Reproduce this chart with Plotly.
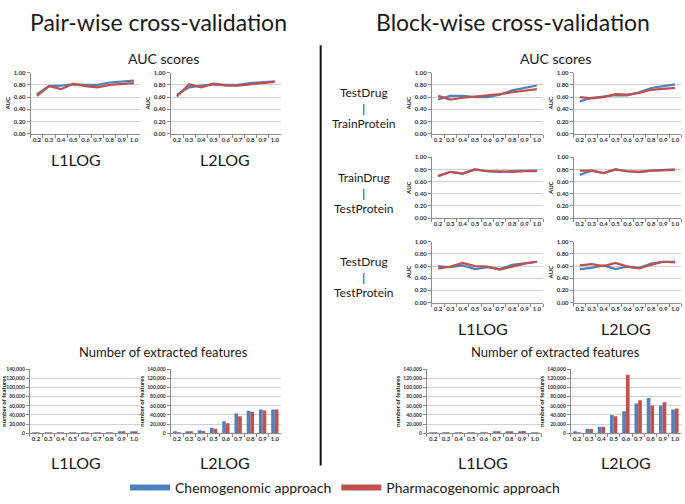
import plotly.graph_objects as go

W, H = 685, 504
categories = ["0.2", "0.3", "0.4", "0.5", "0.6", "0.7", "0.8", "0.9", "1.0"]

# ---- AUC scores: pair-wise ----
pair_l1_auc_chemo = [0.65, 0.78, 0.79, 0.81, 0.80, 0.80, 0.84, 0.86, 0.87]
pair_l1_auc_pharma = [0.62, 0.78, 0.73, 0.82, 0.78, 0.76, 0.80, 0.81, 0.83]
pair_l2_auc_chemo = [0.64, 0.76, 0.79, 0.81, 0.80, 0.80, 0.83, 0.85, 0.86]
pair_l2_auc_pharma = [0.61, 0.81, 0.76, 0.82, 0.79, 0.79, 0.81, 0.83, 0.85]

# ---- AUC scores: block-wise ----
tdtr_l1_chemo = [0.56, 0.62, 0.62, 0.60, 0.60, 0.64, 0.71, 0.75, 0.79]
tdtr_l1_pharma = [0.62, 0.56, 0.59, 0.61, 0.62, 0.65, 0.68, 0.70, 0.73]
tdtr_l2_chemo = [0.53, 0.59, 0.61, 0.63, 0.63, 0.68, 0.75, 0.78, 0.81]
tdtr_l2_pharma = [0.60, 0.58, 0.60, 0.65, 0.64, 0.67, 0.72, 0.73, 0.75]

trte_l1_chemo = [0.69, 0.76, 0.73, 0.80, 0.77, 0.76, 0.77, 0.78, 0.78]
trte_l1_pharma = [0.69, 0.76, 0.73, 0.80, 0.77, 0.76, 0.76, 0.77, 0.77]
trte_l2_chemo = [0.71, 0.78, 0.74, 0.80, 0.77, 0.76, 0.78, 0.79, 0.80]
trte_l2_pharma = [0.78, 0.78, 0.74, 0.80, 0.77, 0.76, 0.78, 0.79, 0.79]

tdte_l1_chemo = [0.60, 0.58, 0.61, 0.55, 0.58, 0.55, 0.62, 0.64, 0.67]
tdte_l1_pharma = [0.56, 0.59, 0.65, 0.60, 0.59, 0.54, 0.59, 0.64, 0.67]
tdte_l2_chemo = [0.55, 0.57, 0.61, 0.55, 0.59, 0.57, 0.64, 0.67, 0.67]
tdte_l2_pharma = [0.61, 0.63, 0.60, 0.65, 0.59, 0.56, 0.62, 0.67, 0.66]

# ---- Number of extracted features ----
pair_l1_feat_chemo = [60, 90, 130, 220, 400, 1100, 1600, 2300, 2400]
pair_l1_feat_pharma = [50, 80, 110, 190, 350, 900, 1400, 2100, 2200]
pair_l2_feat_chemo = [2800, 3500, 6400, 12000, 26000, 43000, 49000, 52000, 52000]
pair_l2_feat_pharma = [1400, 2800, 5000, 9900, 22000, 37000, 47000, 50000, 52000]
block_l1_feat_chemo = [200, 300, 400, 700, 1500, 3000, 3200, 4000, 1500]
block_l1_feat_pharma = [150, 250, 350, 600, 1600, 3300, 2600, 4600, 1200]
block_l2_feat_chemo = [3500, 9900, 14000, 40000, 48000, 65000, 77000, 61000, 52000]
block_l2_feat_pharma = [1400, 9200, 14000, 37000, 128000, 72000, 61000, 68000, 54000]

auc_ticks = [0.0, 0.2, 0.4, 0.6, 0.8, 1.0]
auc_ticklabels = ["0.00", "0.20", "0.40", "0.60", "0.80", "1.00"]
feat_ticks = [0, 20000, 40000, 60000, 80000, 100000, 120000, 140000]
feat_ticklabels = ["0", "20,000", "40,000", "60,000", "80,000", "100,000", "120,000", "140,000"]

BLUE = "#4F81BD"
RED = "#C0504D"
FONT = "Lato"


def px_x(px):
    return px / W


def px_y(py):
    return 1 - py / H


panels = [
    # kind, x-range px, y-range px (top, bottom), chemo, pharma
    ("auc", (26, 136), (70, 132), pair_l1_auc_chemo, pair_l1_auc_pharma),
    ("auc", (167, 278), (70, 132), pair_l2_auc_chemo, pair_l2_auc_pharma),
    ("auc", (430, 542), (70, 132), tdtr_l1_chemo, tdtr_l1_pharma),
    ("auc", (573, 681), (70, 132), tdtr_l2_chemo, tdtr_l2_pharma),
    ("auc", (430, 542), (156, 218), trte_l1_chemo, trte_l1_pharma),
    ("auc", (573, 681), (156, 218), trte_l2_chemo, trte_l2_pharma),
    ("auc", (430, 542), (242, 304), tdte_l1_chemo, tdte_l1_pharma),
    ("auc", (573, 681), (242, 304), tdte_l2_chemo, tdte_l2_pharma),
    ("feat", (25, 136), (372, 437), pair_l1_feat_chemo, pair_l1_feat_pharma),
    ("feat", (167, 278), (372, 437), pair_l2_feat_chemo, pair_l2_feat_pharma),
    ("feat", (425, 540), (372, 437), block_l1_feat_chemo, block_l1_feat_pharma),
    ("feat", (570, 681), (372, 437), block_l2_feat_chemo, block_l2_feat_pharma),
]

fig = go.Figure()
layout_axes = {}
tickfont = dict(family=FONT, size=6, color="#333333", weight="bold")

for i, (kind, (x0, x1), (y0, y1), chemo, pharma) in enumerate(panels, start=1):
    xa = "x" if i == 1 else f"x{i}"
    ya = "y" if i == 1 else f"y{i}"
    xkey = "xaxis" if i == 1 else f"xaxis{i}"
    ykey = "yaxis" if i == 1 else f"yaxis{i}"
    if kind == "auc":
        fig.add_trace(go.Scatter(x=categories, y=chemo, mode="lines",
                                 line=dict(color=BLUE, width=2.2),
                                 xaxis=xa, yaxis=ya, showlegend=False,
                                 name="Chemogenomic approach"))
        fig.add_trace(go.Scatter(x=categories, y=pharma, mode="lines",
                                 line=dict(color=RED, width=2.2),
                                 xaxis=xa, yaxis=ya, showlegend=False,
                                 name="Pharmacogenomic approach"))
        yr = [0, 1]
        tv, tt = auc_ticks, auc_ticklabels
        ytitle = "AUC"
        ytf = tickfont
    else:
        fig.add_trace(go.Bar(x=categories, y=chemo, marker=dict(color=BLUE, line=dict(width=0)),
                             xaxis=xa, yaxis=ya, showlegend=False,
                             name="Chemogenomic approach", offsetgroup="a"))
        fig.add_trace(go.Bar(x=categories, y=pharma, marker=dict(color=RED, line=dict(width=0)),
                             xaxis=xa, yaxis=ya, showlegend=False,
                             name="Pharmacogenomic approach", offsetgroup="b"))
        yr = [0, 140000]
        tv, tt = feat_ticks, feat_ticklabels
        ytitle = "number of features"
        ytf = dict(family=FONT, size=5, color="#333333", weight="bold")
    layout_axes[xkey] = dict(
        domain=[px_x(x0), px_x(x1)], anchor=ya, type="category",
        categoryorder="array", categoryarray=categories,
        range=[-0.5, 8.5], showgrid=False, zeroline=False,
        showline=True, linecolor="#8C8C8C", linewidth=1,
        ticks="outside", ticklen=3, tickcolor="#8C8C8C", tickson="boundaries",
        tickangle=0, tickfont=tickfont, fixedrange=True,
    )
    layout_axes[ykey] = dict(
        domain=[px_y(y1), px_y(y0)], anchor=xa, range=yr,
        tickvals=tv, ticktext=tt, showgrid=True, gridcolor="#D0D0D0", gridwidth=1,
        zeroline=False, showline=True, linecolor="#8C8C8C", linewidth=1,
        ticks="outside", ticklen=3, tickcolor="#8C8C8C", tickfont=ytf,
        title=dict(text=ytitle, font=dict(family=FONT, size=6, color="#202020", weight="bold"), standoff=2),
        fixedrange=True,
    )

# legend entries (legend-only samples)
fig.add_trace(go.Scatter(x=[None], y=[None], mode="lines", line=dict(color=BLUE, width=6),
                         name="Chemogenomic approach", showlegend=True))
fig.add_trace(go.Scatter(x=[None], y=[None], mode="lines", line=dict(color=RED, width=6),
                         name="Pharmacogenomic approach", showlegend=True))

annotations = []


def txt(text, x, y, size, **kw):
    annotations.append(dict(text=text, x=px_x(x), y=px_y(y), xref="paper", yref="paper",
                            showarrow=False, xanchor="center", yanchor="middle",
                            font=dict(family=FONT, size=size, color="#1a1a1a"), **kw))


txt("Pair-wise cross-validation", 155, 18, 23)
txt("Block-wise cross-validation", 512, 18, 23)
txt("AUC scores", 160, 55, 14)
txt("AUC scores", 555, 55, 14)
txt("Number of extracted features", 160, 354, 13)
txt("Number of extracted features", 555, 354, 13)
txt("L1LOG", 72, 158, 16)
txt("L2LOG", 222, 158, 16)
txt("L1LOG", 482, 330, 16)
txt("L2LOG", 626, 330, 16)
txt("L1LOG", 72, 467, 16)
txt("L2LOG", 222, 467, 16)
txt("L1LOG", 482, 467, 16)
txt("L2LOG", 626, 467, 16)
txt("TestDrug<br>|<br>TrainProtein", 362, 106, 12)
txt("TrainDrug<br>|<br>TestProtein", 362, 192, 12)
txt("TestDrug<br>|<br>TestProtein", 362, 278, 12)

fig.update_layout(
    width=W, height=H,
    margin=dict(l=0, r=0, t=0, b=0),
    paper_bgcolor="white", plot_bgcolor="white",
    bargap=0.4, bargroupgap=0.0, barmode="group",
    annotations=annotations,
    shapes=[dict(type="line", xref="paper", yref="paper",
                 x0=px_x(318), x1=px_x(318), y0=px_y(42), y1=px_y(470),
                 line=dict(color="#111111", width=2))],
    legend=dict(orientation="h", x=0.5, xanchor="center", y=px_y(493), yanchor="middle",
                font=dict(family=FONT, size=14, color="#1a1a1a"),
                bgcolor="rgba(0,0,0,0)", itemwidth=40, tracegroupgap=0),
    **layout_axes,
)

fig.write_html("out.html", config={"displayModeBar": False},
               post_script="document.body.style.margin='0px';")
